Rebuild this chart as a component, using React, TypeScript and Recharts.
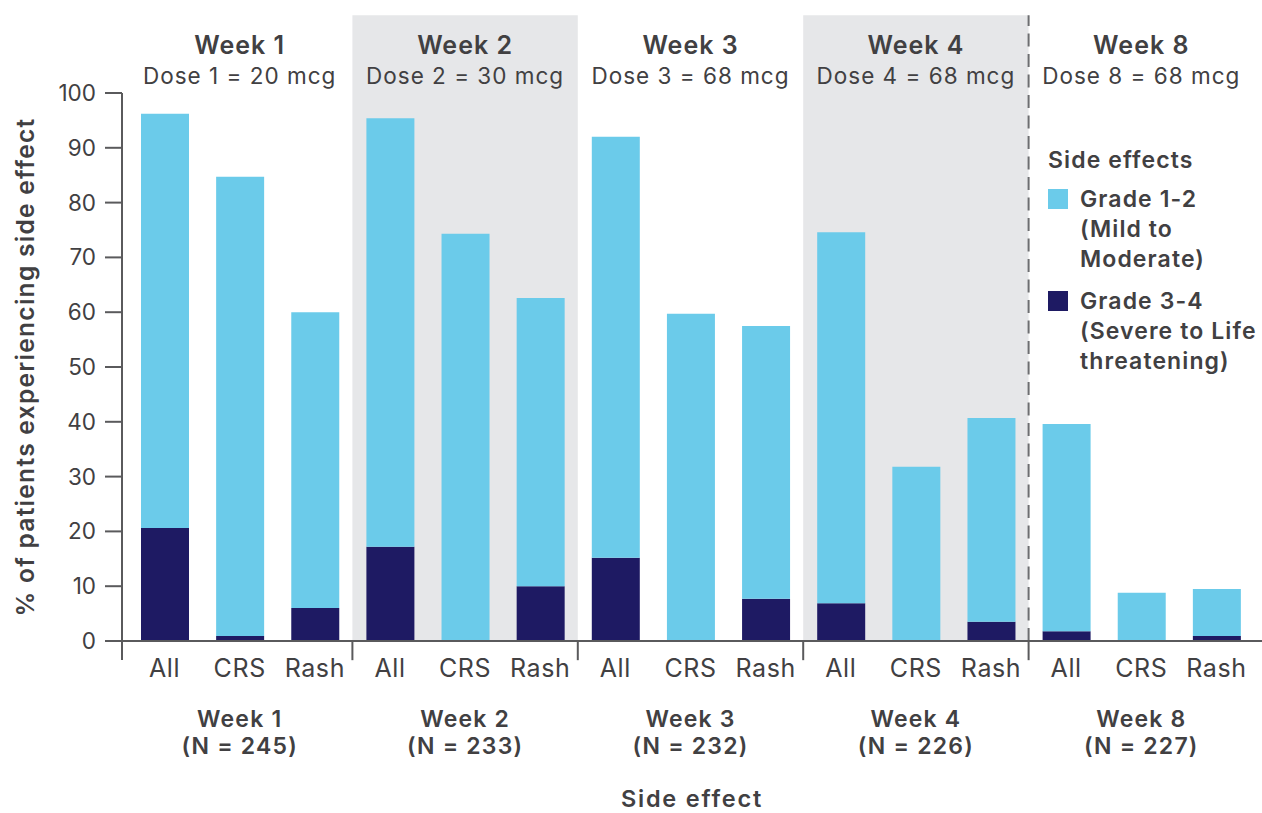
import { BarChart, Bar, XAxis, YAxis, Legend, ReferenceArea, ReferenceLine } from 'recharts';

const weeks = ['Week 1', 'Week 2', 'Week 3', 'Week 4', 'Week 8'];
const doses = ['Dose 1 = 20 mcg', 'Dose 2 = 30 mcg', 'Dose 3 = 68 mcg', 'Dose 4 = 68 mcg', 'Dose 8 = 68 mcg'];
const nLabels = ['(N = 245)', '(N = 233)', '(N = 232)', '(N = 226)', '(N = 227)'];
const effects = ['All', 'CRS', 'Rash'];

// % of patients, grade 3-4 (bottom of stack)
const severePct = [20.6, 0.9, 6.0, 17.2, 0, 10.0, 15.2, 0, 7.7, 6.9, 0, 3.5, 1.8, 0, 0.9];
// % of patients, grade 1-2 (top of stack)
const mildPct = [75.6, 83.8, 54.0, 78.2, 74.3, 52.6, 76.8, 59.7, 49.8, 67.7, 31.8, 37.2, 37.8, 8.8, 8.6];

const yTicks = [0, 10, 20, 30, 40, 50, 60, 70, 80, 90, 100];

const legendItems = [
  { color: '#6BCBEA', lines: ['Grade 1-2', '(Mild to', 'Moderate)'] },
  { color: '#1E1A63', lines: ['Grade 3-4', '(Severe to Life', 'threatening)'] },
];

const LIGHT = '#6BCBEA';
const DARK = '#1E1A63';
const SHADE = '#E6E7E9';
const TEXT = '#414042';
const AXIS = '#5a5a5c';
const FONT = 'Inter, "Noto Sans", sans-serif';

const data = weeks.flatMap((w, g) =>
  effects.map((e, j) => ({
    key: `${w}|${e}`,
    severe: severePct[g * 3 + j],
    mild: mildPct[g * 3 + j],
  }))
);

const keyAt = (i: number) => data[i].key;
// top of the shaded panels, in axis units (panel reaches above the 100 line)
const PANEL_TOP = 114.2;

const GroupTick = (props: any) => {
  const { x, payload } = props;
  const [week, effect] = String(payload.value).split('|');
  const g = weeks.indexOf(week);
  const middle = effect === 'CRS';
  return (
    <g fontFamily={FONT} fill={TEXT}>
      <text x={x} y={668} textAnchor="middle" dominantBaseline="central" fontSize={25} letterSpacing={0.6} fill={TEXT}>
        {effect}
      </text>
      {middle && (
        <>
          <text x={x} y={45} textAnchor="middle" dominantBaseline="central" fontSize={25} fontWeight={600} letterSpacing={1} fill={TEXT}>
            {weeks[g]}
          </text>
          <text x={x} y={75} textAnchor="middle" dominantBaseline="central" fontSize={22.5} letterSpacing={1} fill={TEXT}>
            {doses[g]}
          </text>
          <text x={x} y={719} textAnchor="middle" dominantBaseline="central" fontSize={23} fontWeight={600} letterSpacing={1.2} fill={TEXT}>
            {weeks[g]}
          </text>
          <text x={x} y={746} textAnchor="middle" dominantBaseline="central" fontSize={23} fontWeight={600} letterSpacing={1.2} fill={TEXT}>
            {nLabels[g]}
          </text>
        </>
      )}
    </g>
  );
};

const SideEffectLabel = (props: any) => {
  const { viewBox } = props;
  const cx = viewBox.x + viewBox.width / 2;
  return (
    <text
      x={cx}
      y={798}
      textAnchor="middle"
      dominantBaseline="central"
      fontFamily={FONT}
      fontSize={23.5}
      fontWeight={600}
      letterSpacing={1.8}
      fill={TEXT}
    >
      Side effect
    </text>
  );
};

const LegendBox = () => (
  <div
    style={{
      fontFamily: FONT,
      color: TEXT,
      fontSize: 23,
      fontWeight: 600,
      lineHeight: '30px',
      letterSpacing: 1.1,
      textAlign: 'left',
      whiteSpace: 'nowrap',
    }}
  >
    <div style={{ marginBottom: 9 }}>Side effects</div>
    {legendItems.map((item) => (
      <div key={item.lines[0]} style={{ display: 'flex', marginBottom: 12 }}>
        <div style={{ width: 20, height: 20, marginTop: 5, marginRight: 12, background: item.color, flexShrink: 0 }} />
        <div>
          {item.lines.map((l) => (
            <div key={l}>{l}</div>
          ))}
        </div>
      </div>
    ))}
  </div>
);

const App = () => {
  return (
    <div style={{ position: 'absolute', left: 0, top: 0, width: 1262, height: 813, background: '#fff' }}>
      <BarChart width={1262} height={813} data={data} margin={{ top: 93, right: 0, bottom: 0, left: 0 }} barSize={48}>
        <ReferenceArea x1={keyAt(3)} x2={keyAt(5)} y1={0} y2={PANEL_TOP} fill={SHADE} fillOpacity={1} ifOverflow="visible" />
        <ReferenceArea x1={keyAt(9)} x2={keyAt(11)} y1={0} y2={PANEL_TOP} fill={SHADE} fillOpacity={1} ifOverflow="visible" />
        <Bar dataKey="severe" stackId="a" fill={DARK} isAnimationActive={false} />
        <Bar dataKey="mild" stackId="a" fill={LIGHT} isAnimationActive={false} />
        <ReferenceLine
          segment={[{ x: keyAt(12), y: 0 }, { x: keyAt(12), y: PANEL_TOP }]}
          position="start"
          stroke="#6d6e71"
          strokeWidth={2}
          strokeDasharray="13 7.5"
          ifOverflow="visible"
        />
        {[3, 6, 9, 12].map((i) => (
          <ReferenceLine
            key={i}
            segment={[{ x: keyAt(i), y: 0 }, { x: keyAt(i), y: -3.5 }]}
            position="start"
            stroke={AXIS}
            strokeWidth={2}
            ifOverflow="visible"
          />
        ))}
        <line x1={122} y1={640} x2={122} y2={660} stroke={AXIS} strokeWidth={2} />
        <XAxis
          dataKey="key"
          height={172}
          interval={0}
          padding={{ left: 5, right: 8 }}
          tickLine={false}
          axisLine={{ stroke: AXIS, strokeWidth: 2 }}
          tick={<GroupTick />}
          label={<SideEffectLabel />}
        />
        <YAxis
          width={122}
          domain={[0, 100]}
          ticks={yTicks}
          interval={0}
          tickSize={17}
          tickMargin={9}
          axisLine={{ stroke: AXIS, strokeWidth: 2 }}
          tickLine={{ stroke: AXIS, strokeWidth: 2 }}
          tick={{ fontFamily: FONT, fontSize: 22.5, fill: TEXT }}
          label={{
            value: '% of patients experiencing side effect',
            angle: -90,
            position: 'insideLeft',
            offset: 25,
            style: { fontFamily: FONT, fontSize: 24.5, fontWeight: 600, fill: TEXT, textAnchor: 'middle', letterSpacing: 1.3 },
          }}
        />
        <Legend
          layout="vertical"
          align="center"
          verticalAlign="middle"
          content={<LegendBox />}
          wrapperStyle={{ left: 1048, top: 145, width: 214, height: 'auto' }}
        />
      </BarChart>
    </div>
  );
};

export default App;
